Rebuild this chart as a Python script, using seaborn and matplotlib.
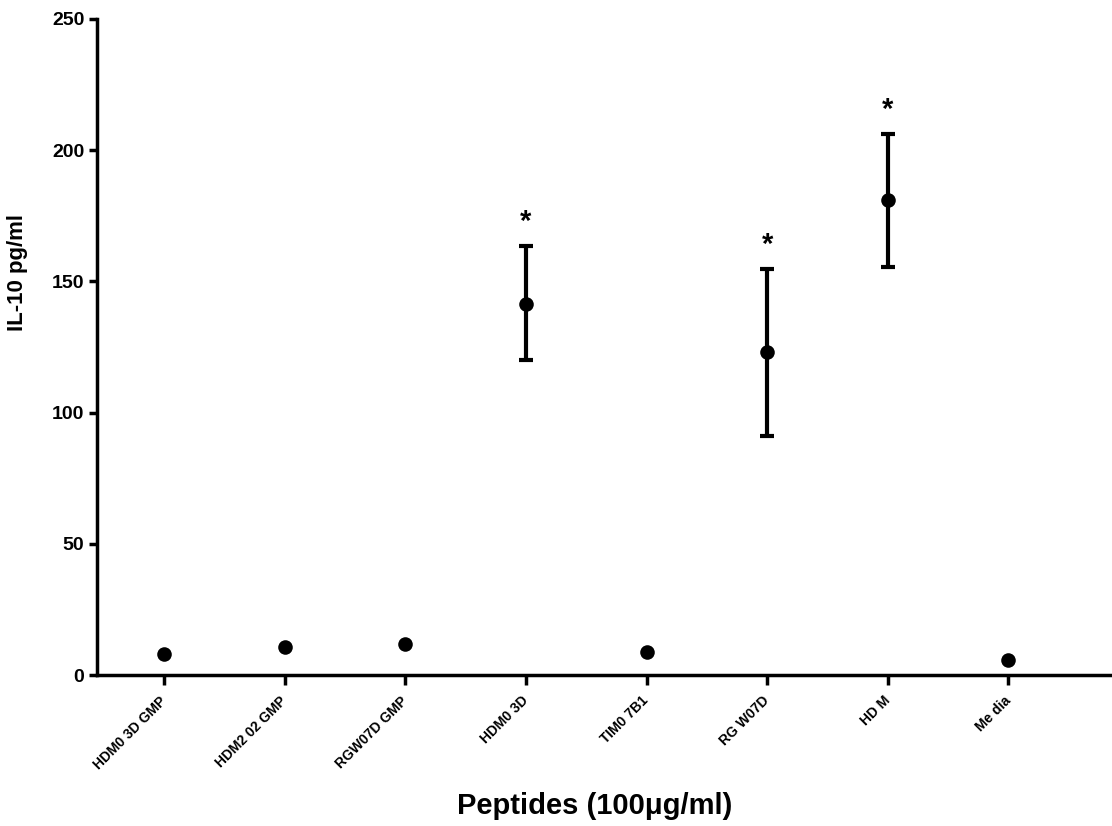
import matplotlib
matplotlib.use("Agg")
import matplotlib.pyplot as plt
import seaborn as sns
import pandas as pd
import numpy as np

categories = ["HDM0 3D GMP", "HDM2 02 GMP", "RGW07D GMP", "HDM0 3D",
              "TIM0 7B1", "RG W07D", "HD M", "Me dia"]
means = [8.0, 10.7, 11.8, 141.4, 8.8, 123.0, 181.0, 5.7]
err_low = [0, 0, 0, 21.5, 0, 32.0, 25.5, 0]
err_high = [0, 0, 0, 22.0, 0, 31.7, 25.0, 0]
significant = [False, False, False, True, False, True, True, False]
yticks = [0, 50, 100, 150, 200, 250]

sns.set_style("ticks")
plt.rcParams['font.family'] = ['Liberation Sans', 'DejaVu Sans']
plt.rcParams['font.weight'] = 'bold'
for k in ['text.color', 'axes.labelcolor', 'xtick.color', 'ytick.color', 'axes.edgecolor']:
    plt.rcParams[k] = 'black'

df = pd.DataFrame({"Peptide": categories, "IL10": means})

fig = plt.figure(figsize=(11.12, 8.26), dpi=100)
ax = fig.add_axes([0.0872, 0.1828, 0.9128, 0.7942])

sns.scatterplot(data=df, x="Peptide", y="IL10", ax=ax, color="black",
                s=110, edgecolor="black", linewidth=0, zorder=3, legend=False)
xpos = np.arange(len(categories))
for i in range(len(categories)):
    if err_low[i] > 0:
        ax.errorbar(xpos[i], means[i], yerr=[[err_low[i]], [err_high[i]]],
                    fmt="none", ecolor="black", elinewidth=3, capsize=5,
                    capthick=3, zorder=2)
    if significant[i]:
        ax.text(xpos[i], means[i] + err_high[i] + 4, "*", ha="center",
                va="bottom", fontsize=21, fontweight="bold")

ax.set_xlim(-0.557, 7.86)
ax.set_ylim(0, 250)
ax.set_yticks(yticks)
ax.set_xticks(xpos)
ax.set_xticklabels(categories, rotation=45, ha="right", va="center",
                   rotation_mode="anchor", fontsize=10, fontweight="bold")
ax.tick_params(axis="y", labelsize=14, width=2.5, length=6, pad=3)
ax.tick_params(axis="x", width=2.5, length=7, pad=10)
for lab in ax.get_yticklabels():
    lab.set_fontweight("bold")
for side in ["top", "right"]:
    ax.spines[side].set_visible(False)
for side in ["left", "bottom"]:
    ax.spines[side].set_linewidth(2.5)
ax.set_ylabel("IL-10 pg/ml", fontsize=16, fontweight="bold")
ax.yaxis.set_label_coords(-0.068, 0.614)
ax.set_xlabel("Peptides (100\u03bcg/ml)", fontsize=21, fontweight="bold", labelpad=15)
ax.xaxis.label.set_x(0.49)

fig.savefig("out.png", dpi=100)
